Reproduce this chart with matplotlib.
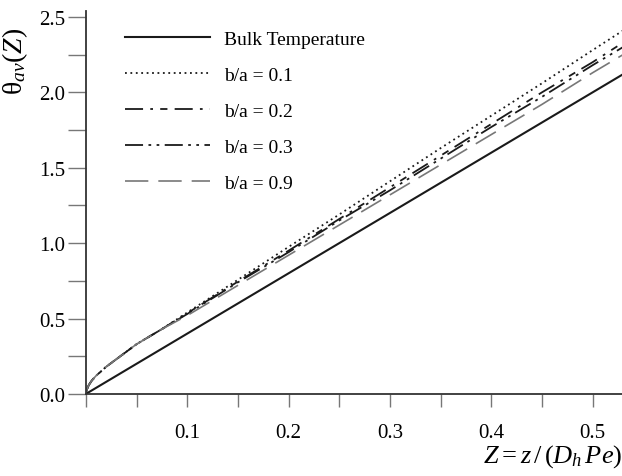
import numpy as np
import matplotlib
matplotlib.use('Agg')
import matplotlib.pyplot as plt
from matplotlib.ticker import MultipleLocator

plt.rcParams['font.family'] = ['Liberation Serif', 'DejaVu Serif']
plt.rcParams['mathtext.fontset'] = 'custom'
plt.rcParams['mathtext.rm'] = 'Liberation Serif'
plt.rcParams['mathtext.it'] = 'Liberation Serif:italic'

# data
z = [0, 0.001, 0.003, 0.006, 0.01, 0.02, 0.03, 0.05, 0.075, 0.1,
     0.15, 0.2, 0.25, 0.3, 0.35, 0.4, 0.45, 0.5, 0.53]
head = [0, 0.03, 0.06, 0.09, 0.12, 0.18, 0.23, 0.33, 0.43]
bulk_z = [0, 0.53]
bulk = [0, 2.12]
ba01 = head + [0.54, 0.757, 0.975, 1.19, 1.41, 1.63, 1.845, 2.06, 2.28, 2.41]
ba02 = head + [0.535, 0.745, 0.95, 1.16, 1.37, 1.58, 1.79, 2.0, 2.2, 2.33]
ba03 = head + [0.53, 0.74, 0.94, 1.15, 1.35, 1.56, 1.77, 1.97, 2.18, 2.30]
ba09 = head + [0.52, 0.72, 0.92, 1.12, 1.32, 1.52, 1.72, 1.92, 2.13, 2.25]
xticks = [0.1, 0.2, 0.3, 0.4, 0.5]
yticks = [0.0, 0.5, 1.0, 1.5, 2.0, 2.5]

fig = plt.figure(figsize=(6.22, 4.77), dpi=100)
ax = fig.add_axes([0.138, 0.172, 0.862, 0.803])

ax.plot(bulk_z, bulk, color='#1a1a1a', lw=1.5, label='Bulk Temperature')
ax.plot(z, ba01, color='#1a1a1a', lw=1.3, linestyle=(0, (1, 2)), label='b/a = 0.1')
ax.plot(z, ba02, color='#1a1a1a', lw=1.3, linestyle=(0, (10, 4, 1.5, 4, 4, 4)), label='b/a = 0.2')
ax.plot(z, ba03, color='#1a1a1a', lw=1.3, linestyle=(0, (10, 3, 1.5, 3, 1.5, 3)), label='b/a = 0.3')
ax.plot(z, ba09, color='#777777', lw=1.2, linestyle=(0, (14, 6)), label='b/a = 0.9')

ax.set_xlim(0, 0.529)
ax.set_ylim(0, 2.54)
ax.spines['top'].set_visible(False)
ax.spines['right'].set_visible(False)
for s in ['left', 'bottom']:
    ax.spines[s].set_color('#333333')
    ax.spines[s].set_linewidth(1.3)

ax.set_xticks(xticks)
ax.set_xticklabels(['%.1f' % v for v in xticks])
ax.xaxis.set_minor_locator(MultipleLocator(0.05))
ax.set_yticks(yticks)
ax.set_yticklabels(['%.1f' % v for v in yticks])
ax.yaxis.set_minor_locator(MultipleLocator(0.25))
ax.tick_params(axis='x', which='both', direction='out', length=9, width=1, color='#777777',
               labelsize=15, pad=12)
ax.tick_params(axis='y', which='both', direction='out', length=13, width=1, color='#777777',
               labelsize=15, pad=2)

ax.set_ylabel(r'$\mathrm{\theta}_{av}(Z)$', fontsize=20, labelpad=2)
ax.yaxis.set_label_coords(-0.105, 0.87)
ax.set_xlabel(r'$Z=z\,/\,(D_h\,Pe)$', fontsize=19)
ax.xaxis.set_label_coords(1.0, -0.125)
ax.xaxis.label.set_horizontalalignment('right')

ax.legend(loc='upper left', bbox_to_anchor=(0.04, 0.995), frameon=False, fontsize=14,
          handlelength=4.4, handletextpad=0.7, labelspacing=0.95)

fig.savefig('out.png', dpi=100)
